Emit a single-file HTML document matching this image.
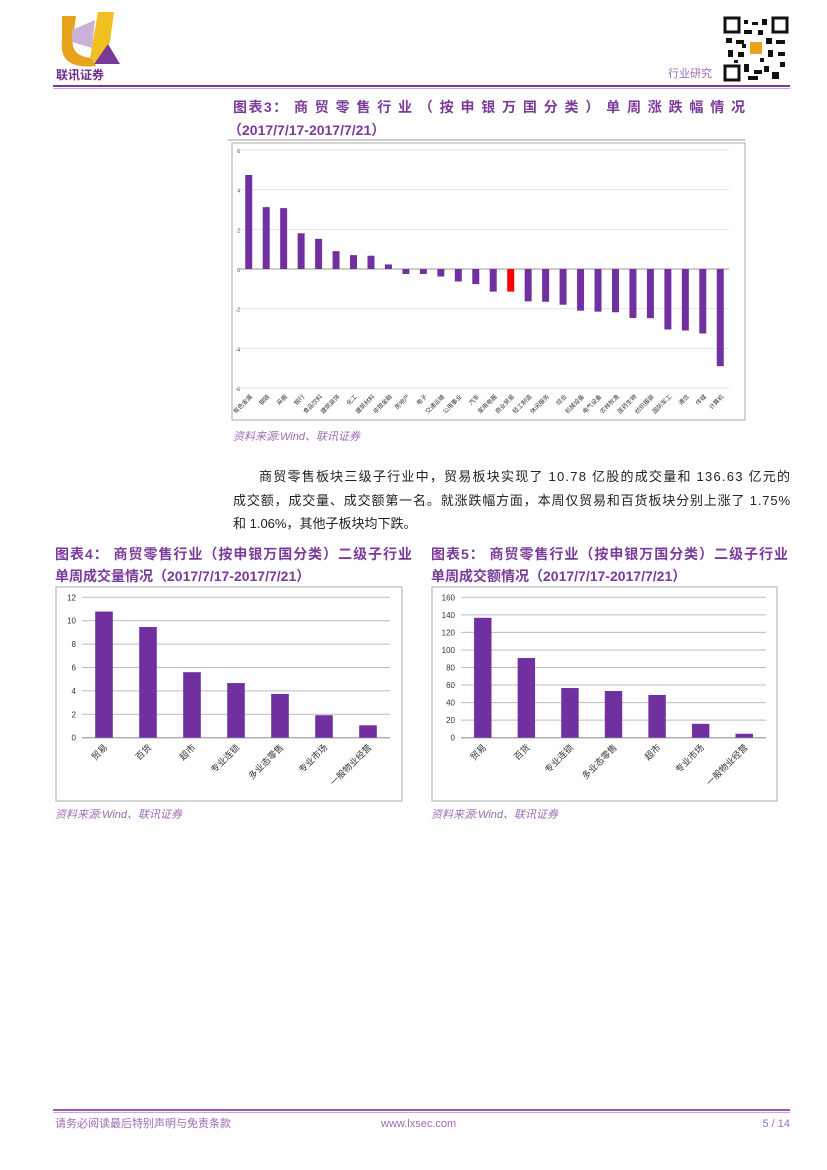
<!DOCTYPE html>
<html><head><meta charset="utf-8"><style>
body{margin:0;background:#fff;}
svg{display:block;font-family:"Liberation Sans","Noto Sans CJK SC",sans-serif;}
</style></head><body>
<svg id="pg" width="827" height="1170" viewBox="0 0 827 1170" xmlns="http://www.w3.org/2000/svg">
<g>
<path d="M62 16 L76 16 L73 38 Q70 56 92 58 L96 66 Q58 70 62 40 Z" fill="#e8a21c"/>
<path d="M98 12 L114 12 L110 42 L98 64 L90 58 Z" fill="#f0c020"/>
<path d="M72 30 L95 20 L92 48 L72 42 Z" fill="#c9b1d8"/>
<path d="M108 44 L120 64 L94 64 Z" fill="#7a3a9a"/>
<text x="56" y="79" font-size="12" font-weight="bold" fill="#6c2a8a">联讯证券</text>
</g>
<text x="668" y="77" font-size="11" fill="#a06cb4">行业研究</text>
<g>
<rect x="725" y="18" width="14" height="14" fill="none" stroke="#111" stroke-width="3"/>
<rect x="773" y="18" width="14" height="14" fill="none" stroke="#111" stroke-width="3"/>
<rect x="725" y="66" width="14" height="14" fill="none" stroke="#111" stroke-width="3"/>
<path d="M744 20h4v4h-4zM752 22h6v3h-6zM762 19h5v6h-5zM744 30h8v4h-8zM758 30h5v5h-5zM726 38h6v5h-6zM736 40h8v4h-8zM766 38h6v6h-6zM776 40h9v4h-9zM728 50h5v7h-5zM738 52h6v5h-6zM768 50h5v7h-5zM778 52h7v4h-7zM744 64h5v8h-5zM754 70h8v4h-8zM764 66h5v6h-5zM772 72h7v7h-7zM748 76h10v4h-10zM780 62h5v5h-5zM742 44h4v4h-4zM760 58h4v4h-4zM734 60h4v3h-4z" fill="#111"/>
<rect x="750" y="42" width="12" height="12" fill="#e8a21c"/>
</g>
<rect x="53" y="85" width="737" height="2" fill="#7a3a9a"/>
<rect x="53" y="88" width="737" height="1" fill="#c7a8d6"/>

<text x="233" y="112" font-size="14" font-weight="bold" fill="#7a3a9a" textLength="512">图表3：  商 贸 零 售 行 业 （ 按 申 银 万 国 分 类 ） 单 周 涨 跌 幅 情 况</text>
<text x="228" y="135" font-size="14" font-weight="bold" fill="#7a3a9a">（2017/7/17-2017/7/21）</text>
<rect x="228" y="139" width="517" height="2" fill="#ccc"/>
<rect x="232" y="143" width="513" height="277" fill="none" stroke="#aaa"/>
<g id="c3"></g>
<text x="233" y="440" font-size="11" font-style="italic" fill="#a06cb4">资料来源:Wind、联讯证券</text>

<g font-size="13" fill="#222">
<text x="259" y="481" textLength="531">商贸零售板块三级子行业中，贸易板块实现了 10.78 亿股的成交量和 136.63 亿元的</text>
<text x="233" y="505" textLength="557">成交额，成交量、成交额第一名。就涨跌幅方面，本周仅贸易和百货板块分别上涨了 1.75%</text>
<text x="233" y="528">和 1.06%，其他子板块均下跌。</text>
</g>

<text x="55" y="559" font-size="14" font-weight="bold" fill="#7a3a9a" textLength="357">图表4：  商贸零售行业（按申银万国分类）二级子行业</text>
<text x="55" y="581" font-size="14" font-weight="bold" fill="#7a3a9a">单周成交量情况（2017/7/17-2017/7/21）</text>
<rect x="56" y="587" width="346" height="214" fill="none" stroke="#aaa"/>
<g id="c4"></g>
<text x="55" y="818" font-size="11" font-style="italic" fill="#a06cb4">资料来源:Wind、联讯证券</text>

<text x="431" y="559" font-size="14" font-weight="bold" fill="#7a3a9a" textLength="357">图表5：  商贸零售行业（按申银万国分类）二级子行业</text>
<text x="431" y="581" font-size="14" font-weight="bold" fill="#7a3a9a">单周成交额情况（2017/7/17-2017/7/21）</text>
<rect x="432" y="587" width="345" height="214" fill="none" stroke="#aaa"/>
<g id="c5"></g>
<text x="431" y="818" font-size="11" font-style="italic" fill="#a06cb4">资料来源:Wind、联讯证券</text>

<rect x="53" y="1109" width="737" height="2" fill="#9a5ab4"/>
<rect x="53" y="1112" width="737" height="1" fill="#c7a8d6"/>
<text x="55" y="1127" font-size="11" fill="#a06cb4">请务必阅读最后特别声明与免责条款</text>
<text x="381" y="1127" font-size="11" fill="#a06cb4">www.lxsec.com</text>
<text x="790" y="1127" font-size="11" fill="#a06cb4" text-anchor="end">5 / 14</text>
</svg>
<script>
const c3Cats=["有色金属","钢铁","采掘","银行","食品饮料","建筑装饰","化工","建筑材料","非银金融","房地产","电子","交通运输","公用事业","汽车","家用电器","商业贸易","轻工制造","休闲服务","综合","机械设备","电气设备","农林牧渔","医药生物","纺织服装","国防军工","通信","传媒","计算机"];
const c3Vals=[4.74,3.12,3.07,1.8,1.52,0.9,0.7,0.67,0.23,-0.25,-0.25,-0.38,-0.63,-0.76,-1.14,-1.14,-1.63,-1.65,-1.8,-2.1,-2.15,-2.18,-2.47,-2.48,-3.05,-3.1,-3.25,-4.9];
const c3Ticks=[6,4,2,0,-2,-4,-6];
const c4Cats=["贸易","百货","超市","专业连锁","多业态零售","专业市场","一般物业经营"];
const c4Vals=[10.78,9.46,5.6,4.67,3.74,1.92,1.06];
const c4Ticks=[0,2,4,6,8,10,12];
const c5Cats=["贸易","百货","专业连锁","多业态零售","超市","专业市场","一般物业经营"];
const c5Vals=[136.63,90.8,56.6,53.2,48.7,15.8,4.5];
const c5Ticks=[0,20,40,60,80,100,120,140,160];
const NS="http://www.w3.org/2000/svg";
function mk(parent,tag,attrs,txt){const e=document.createElementNS(NS,tag);for(const k in attrs)e.setAttribute(k,attrs[k]);if(txt!=null)e.textContent=txt;parent.appendChild(e);return e;}
function bars(g,cats,vals,ticks,o){
  const min=Math.min(...ticks),max=Math.max(...ticks);
  const y=v=>o.bottom-(v-min)/(max-min)*(o.bottom-o.top);
  const step=(o.right-o.left)/cats.length;
  const x=i=>o.left+step*i;
  ticks.forEach(t=>{
    if(o.grid){const l=mk(g,'line',{x1:o.left,x2:o.right,y1:y(t),y2:y(t),stroke:o.gc,'stroke-width':1});
    
    }
    const tx=mk(g,'text',{x:o.tx!=null?o.tx:o.left-6,y:y(t)+3,'font-size':o.tfs,'text-anchor':'end',fill:'#333'},t);
    
    
  });
  const z=y(Math.max(min,0));
  mk(g,'line',{x1:o.left,x2:o.right,y1:z,y2:z,stroke:'#999'});
  vals.forEach((v,i)=>{
    const bx=x(i)+step*(1-o.bw)/2,bw=step*o.bw;
    const r=mk(g,'rect',{x:bx,y:Math.min(y(v),z),width:bw,height:Math.abs(y(v)-z),fill:(o.red===i)?'#ff0000':'#7030a0'});
    
    
    const cx=x(i)+step/2,ly=o.labelY;
    const t=mk(g,'text',{x:cx+4,y:ly,'font-size':o.lfs,'text-anchor':'end',fill:'#333',transform:`rotate(-45 ${cx+4} ${ly})`},cats[i]);
    
    
  });
}
bars(document.getElementById('c3'),c3Cats,c3Vals,c3Ticks,{left:240,right:729,top:150,bottom:388,bw:0.4,grid:true,gc:'#e2e2e2',tx:240,tfs:5,lfs:6,labelY:397,red:15});
bars(document.getElementById('c4'),c4Cats,c4Vals,c4Ticks,{left:82,right:390,top:597.3,bottom:737.7,bw:0.4,grid:true,gc:'#bbb',tfs:8,lfs:9,labelY:748});
bars(document.getElementById('c5'),c5Cats,c5Vals,c5Ticks,{left:461,right:766,top:597.3,bottom:737.7,bw:0.4,grid:true,gc:'#bbb',tfs:8,lfs:9,labelY:748});
</script>
</body></html>
